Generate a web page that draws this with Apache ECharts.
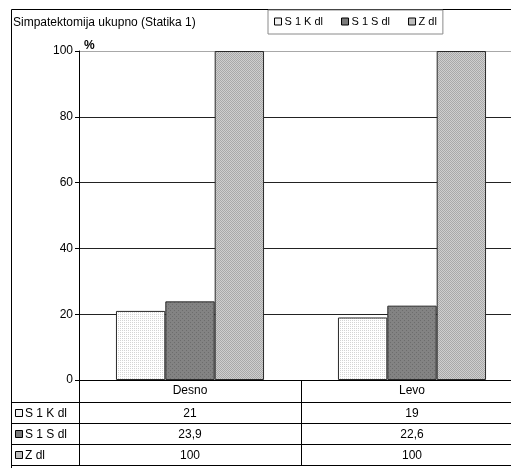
<!DOCTYPE html>
<html>
<head>
<meta charset="utf-8">
<script src="https://cdn.jsdelivr.net/npm/echarts@6/dist/echarts.min.js"></script>
<style>
  html, body { margin: 0; padding: 0; background: #fff; }
  #chart { width: 511px; height: 468px; }
</style>
</head>
<body>
<div id="chart"></div>
<script>
// Data
const categories = ['Desno', 'Levo'];
const seriesNames = ['S 1 K dl', 'S 1 S dl', 'Z dl'];
const s1kValues = [21, 19];
const s1sValues = [23.9, 22.6];
const zValues = [100, 100];
const yMin = 0, yMax = 100, yStep = 20;
const titleText = 'Simpatektomija ukupno (Statika 1)';
const unitText = '%';

const FONT = 'Liberation Sans, Arial, sans-serif';

// Small repeating fill patterns for the bars
function makePattern(bg, dot, kind) {
  const c = document.createElement('canvas');
  c.width = 4; c.height = 4;
  const g = c.getContext('2d');
  g.fillStyle = bg; g.fillRect(0, 0, 4, 4);
  g.fillStyle = dot;
  if (kind === 'dots') {
    g.fillRect(0, 0, 1, 1); g.fillRect(2, 0, 1, 1);
    g.fillRect(0, 2, 1, 1); g.fillRect(2, 2, 1, 1);
  } else if (kind === 'sparse') {
    g.fillRect(0, 0, 1, 1); g.fillRect(2, 2, 1, 1);
  } else {
    for (let y = 0; y < 4; y++) for (let x = 0; x < 4; x++)
      if ((x + y) % 2 === 0) g.fillRect(x, y, 1, 1);
  }
  return { image: c, repeat: 'repeat' };
}
const fills = [
  makePattern('#ffffff', '#d4d4d4', 'dots'),
  makePattern('#838383', '#6c6c6c', 'sparse'),
  makePattern('#cfcfcf', '#a9a9a9', 'checker')
];
const solid = ['#f2f2f2', '#7a7a7a', '#bdbdbd'];
const valueSets = [s1kValues, s1sValues, zValues];

const grid = { left: 79, top: 51, width: 444, height: 329 };

const chart = echarts.init(document.getElementById('chart'), null, { renderer: 'canvas' });

chart.setOption({
  animation: false,
  backgroundColor: '#ffffff',
  textStyle: { fontFamily: FONT },
  title: {
    text: titleText, left: 8, top: 12,
    textStyle: { fontFamily: FONT, fontSize: 12, fontWeight: 'normal', color: '#000' }
  },
  legend: {
    left: 268, top: 10,
    padding: [6, 6, 7, 6],
    borderColor: '#8a8a8a', borderWidth: 1,
    itemWidth: 7, itemHeight: 7, itemGap: 18,
    textStyle: { fontFamily: FONT, fontSize: 11, color: '#000', padding: [0, 0, 0, -2] },
    data: seriesNames.map((n, i) => ({
      name: n, icon: 'rect',
      itemStyle: { color: solid[i], borderColor: '#000', borderWidth: 1 }
    }))
  },
  grid: { left: grid.left, top: grid.top, width: grid.width, height: grid.height,
    containLabel: false, outerBoundsMode: 'none' },
  xAxis: {
    type: 'category', data: categories,
    axisLine: { lineStyle: { color: '#000', width: 1 } },
    axisTick: { show: true, length: 85, lineStyle: { color: '#000' } },
    axisLabel: { color: '#000', fontSize: 12, fontFamily: FONT, margin: 5 },
    splitLine: { show: false }
  },
  yAxis: {
    type: 'value', min: yMin, max: yMax, interval: yStep,
    name: unitText, nameLocation: 'end', nameGap: -1,
    nameTextStyle: { fontFamily: FONT, fontSize: 12, fontWeight: 'bold', color: '#000',
      align: 'left', verticalAlign: 'bottom', padding: [0, 0, 0, 5] },
    axisLine: { show: true, lineStyle: { color: '#000', width: 1 } },
    axisTick: { show: true, length: 4, lineStyle: { color: '#000' } },
    axisLabel: { color: '#000', fontSize: 12, fontFamily: FONT, margin: 6 },
    splitLine: { show: true, lineStyle: { color: ['#222', '#222', '#222', '#222', '#222', '#a8a8a8'], width: 1 } }
  },
  series: seriesNames.map((n, i) => ({
    name: n, type: 'bar', data: valueSets[i],
    barGap: '0%', barCategoryGap: '33.3%',
    itemStyle: { color: fills[i], borderColor: '#2a2a2a', borderWidth: 1 }
  }))
});

// Frame and data table under the plot
function drawTable() {
  const axisY = Math.round(chart.convertToPixel({ yAxisIndex: 0 }, yMin));
  const colCenters = categories.map((c, i) => chart.convertToPixel({ xAxisIndex: 0 }, i));
  const leftX = 11.5;
  const rightX = grid.left + grid.width;
  const rowH = 21.3;
  const rowLines = [0, 1, 2, 3].map(k => Math.round(axisY + 21.5 + k * rowH) + 0.5);
  const lineStyle = { stroke: '#000', lineWidth: 1 };
  const els = [];
  // outer frame
  els.push({ type: 'line', shape: { x1: leftX, y1: 9.5, x2: 520, y2: 9.5 }, style: { stroke: '#000', lineWidth: 1 } });
  els.push({ type: 'line', shape: { x1: leftX, y1: 9.5, x2: leftX, y2: 470 }, style: { stroke: '#000', lineWidth: 1 } });
  // left column divider continues through the table
  els.push({ type: 'line', shape: { x1: grid.left + 0.5, y1: axisY, x2: grid.left + 0.5, y2: rowLines[3] }, style: lineStyle });
  rowLines.forEach(y => {
    els.push({ type: 'line', shape: { x1: leftX, y1: y, x2: rightX, y2: y }, style: lineStyle });
  });
  for (let r = 0; r < 3; r++) {
    const cy = (rowLines[r] + rowLines[r + 1]) / 2;
    els.push({ type: 'rect', shape: { x: 15.5, y: Math.round(cy - 4) + 0.5, width: 7, height: 7 },
      style: { fill: solid[r], stroke: '#000', lineWidth: 1 } });
    els.push({ type: 'text', style: { text: seriesNames[r], x: 25, y: cy + 0.5, fill: '#000',
      font: '12px ' + FONT, textAlign: 'left', textVerticalAlign: 'middle' } });
    colCenters.forEach((cx, ci) => {
      els.push({ type: 'text', style: { text: String(valueSets[r][ci]).replace('.', ','), x: cx, y: cy + 0.5,
        fill: '#000', font: '12px ' + FONT, textAlign: 'center', textVerticalAlign: 'middle' } });
    });
  }
  chart.setOption({ graphic: { elements: els } });
}
drawTable();
</script>
</body>
</html>
